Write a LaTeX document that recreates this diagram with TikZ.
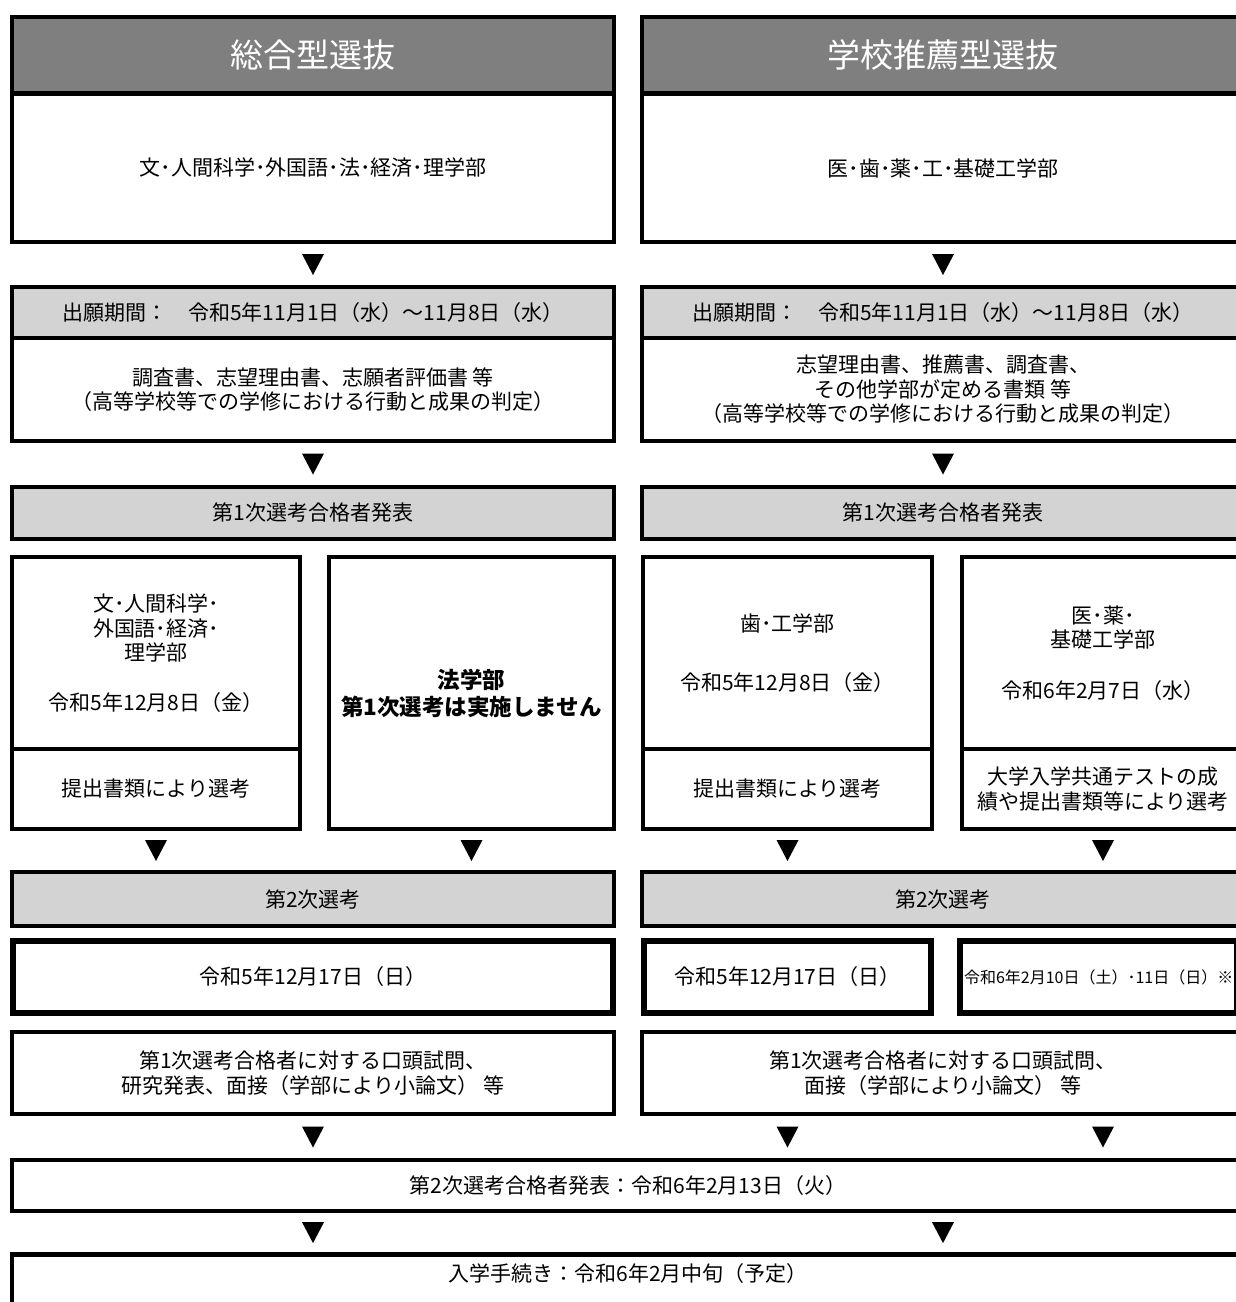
\documentclass[tikz,border=0pt]{standalone}
\usepackage{fontspec}
\setmainfont{Noto Sans CJK JP}
\usetikzlibrary{decorations.markings}

\definecolor{headgray}{RGB}{127,127,127}
\definecolor{stepgray}{RGB}{211,211,211}

\tikzset{
  box/.style={draw=black, line width=4.5pt, fill=white, inner sep=0pt,
    align=center, font=\fontsize{21}{24.5}\selectfont},
  headbox/.style={box, fill=headgray, text=white, font=\fontsize{33}{36}\selectfont},
  greybox/.style={box, fill=stepgray},
  datebox/.style={box, line width=6pt},
  flow/.style={decorate, decoration={markings,
    mark=at position 0.5 with {\fill[black] (10.5pt,0pt) -- (-10.5pt,11pt) -- (-10.5pt,-11pt) -- cycle;}}},
}

\begin{document}
\begin{tikzpicture}[x=1pt, y=-1pt]
  \path[use as bounding box, fill=white] (0,0) rectangle (1236,1302);

  % left column
  \node[headbox, minimum width=602, minimum height=76] (lhead) at (313,55) {総合型選抜};
  \node[box, minimum width=602, minimum height=148] (lprog) at (313,168) {文･人間科学･外国語･法･経済･理学部};
  \node[greybox, minimum width=602, minimum height=51] (lper) at (313,312.5) {出願期間：　令和5年11月1日（水）～11月8日（水）};
  \node[box, minimum width=602, minimum height=103] (ldoc) at (313,389.5)
    {調査書、志望理由書、志願者評価書 等\\（高等学校等での学修における行動と成果の判定）};
  \node[greybox, minimum width=602, minimum height=52] (lpass) at (313,513) {第1次選考合格者発表};
  \node[box, minimum width=288, minimum height=192] (lsubA) at (156,653)
    {文･人間科学･\\外国語･経済･\\理学部\\[25pt]令和5年12月8日（金）};
  \node[box, minimum width=288, minimum height=80] (lsubAb) at (156,789) {提出書類により選考};
  \node[box, minimum width=285, minimum height=272, font=\fontsize{22.5}{27}\selectfont\bfseries] (lsubB) at (471.5,693)
    {法学部\\第1次選考は実施しません};
  \node[greybox, minimum width=602, minimum height=54] (lsec) at (313,899) {第2次選考};
  \node[datebox, minimum width=600, minimum height=72] (ldate) at (313,977) {令和5年12月17日（日）};
  \node[box, minimum width=602, minimum height=82] (lintv) at (313,1073)
    {第1次選考合格者に対する口頭試問、\\研究発表、面接（学部により小論文） 等};

  % right column
  \node[headbox, minimum width=602, minimum height=76] (rhead) at (943,55) {学校推薦型選抜};
  \node[box, minimum width=602, minimum height=148] (rprog) at (943,168) {医･歯･薬･工･基礎工学部};
  \node[greybox, minimum width=602, minimum height=51] (rper) at (943,312.5) {出願期間：　令和5年11月1日（水）～11月8日（水）};
  \node[box, minimum width=602, minimum height=103] (rdoc) at (943,389.5)
    {志望理由書、推薦書、調査書、\\その他学部が定める書類 等\\（高等学校等での学修における行動と成果の判定）};
  \node[greybox, minimum width=602, minimum height=52] (rpass) at (943,513) {第1次選考合格者発表};
  \node[box, minimum width=289, minimum height=192] (rsubA) at (787.5,653)
    {歯･工学部\\[35pt]令和5年12月8日（金）};
  \node[box, minimum width=289, minimum height=80] (rsubAb) at (787.5,789) {提出書類により選考};
  \node[box, minimum width=282, minimum height=192] (rsubB) at (1103,653)
    {医･薬･\\基礎工学部\\[26pt]令和6年2月7日（水）};
  \node[box, minimum width=282, minimum height=80] (rsubBb) at (1103,789)
    {大学入学共通テストの成\\績や提出書類等により選考};
  \node[greybox, minimum width=602, minimum height=54] (rsec) at (943,899) {第2次選考};
  \node[datebox, minimum width=287, minimum height=72] (rdateA) at (787.5,977) {令和5年12月17日（日）};
  \node[datebox, minimum height=72, inner xsep=4pt, anchor=west, font=\fontsize{16}{18}\selectfont] (rdateB) at (957,977)
    {令和6年2月10日（土）･11日（日）※};
  \node[box, minimum width=602, minimum height=82] (rintv) at (943,1073)
    {第1次選考合格者に対する口頭試問、\\面接（学部により小論文） 等};

  % common
  \node[box, minimum width=1232, minimum height=51] (res) at (628,1185.5) {第2次選考合格者発表：令和6年2月13日（火）};
  \node[box, minimum width=1232, text height=27, text depth=33, anchor=north] (fin) at (628,1252) {入学手続き：令和6年2月中旬（予定）};

  % arrows
  \path[flow] (lprog.south) -- (lper.north);
  \path[flow] (ldoc.south) -- (lpass.north);
  \path[flow] (lsubAb.south) -- (lsec.north -| lsubAb.south);
  \path[flow] (lsubB.south) -- (lsec.north -| lsubB.south);
  \path[flow] (lintv.south) -- (res.north -| lintv.south);
  \path[flow] (rprog.south) -- (rper.north);
  \path[flow] (rdoc.south) -- (rpass.north);
  \path[flow] (rsubAb.south) -- (rsec.north -| rsubAb.south);
  \path[flow] (rsubBb.south) -- (rsec.north -| rsubBb.south);
  \path[flow] (rintv.south -| rsubAb.south) -- (res.north -| rsubAb.south);
  \path[flow] (rintv.south -| rsubBb.south) -- (res.north -| rsubBb.south);
  \path[flow] (res.south -| lhead.south) -- (fin.north -| lhead.south);
  \path[flow] (res.south -| rhead.south) -- (fin.north -| rhead.south);
\end{tikzpicture}
\end{document}
